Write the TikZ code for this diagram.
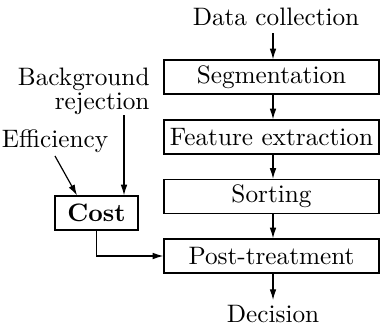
\documentclass[tikz,border=0pt]{standalone}
\usetikzlibrary{arrows.meta}
\begin{document}
\begin{tikzpicture}[x=0.42pt,y=-0.42pt,
  every node/.style={font=\fontsize{10.6}{13}\selectfont},
  stagebox/.style={draw,line width=0.5pt,minimum width=90.3pt,minimum height=14.3pt,inner sep=0pt},
  costbox/.style={draw,line width=0.5pt,minimum width=34.9pt,minimum height=14.3pt,inner sep=0pt,font=\fontsize{10.6}{13}\selectfont\bfseries},
  flow/.style={line width=0.5pt,-{Latex[length=4.5pt,width=2.8pt]}},
  lbl/.style={inner sep=0pt}]
\useasboundingbox (0,0) rectangle (380,325);
% main processing chain
\node[lbl,anchor=base] (data) at (276,25) {Data collection};
\node[stagebox] (seg) at (271.5,77) {Segmentation};
\node[stagebox] (feat) at (271.5,137) {Feature extraction};
\node[stagebox] (sort) at (271.5,196.5) {Sorting};
\node[stagebox] (post) at (271.5,256) {Post-treatment};
\node[lbl,anchor=base] (dec) at (273,322) {Decision};
% cost inputs
\node[lbl,align=right,anchor=north east] (bg) at (150,68) {Background\\[-3.3pt]rejection};
\node[lbl,anchor=base] (eff) at (55,147) {Efficiency};
\node[costbox] (cost) at (96.5,213) {Cost};
\coordinate (dataend) at (273,33);
\coordinate (decend) at (273,300);
\coordinate (bgend) at (124,115);
\coordinate (effend) at (55,156);
% connectors
\draw[flow] (dataend) -- (seg.north -| dataend);
\draw[flow] (seg.south -| dataend) -- (feat.north -| dataend);
\draw[flow] (feat.south -| dataend) -- (sort.north -| dataend);
\draw[flow] (sort.south -| dataend) -- (post.north -| dataend);
\draw[flow] (post.south -| dataend) -- (decend);
\draw[flow] (bgend) -- (cost.north -| bgend);
\draw[flow] (effend) -- (cost.north west -| 77,0);
\draw[flow] (cost.south) |- (post.west);
\end{tikzpicture}
\end{document}
